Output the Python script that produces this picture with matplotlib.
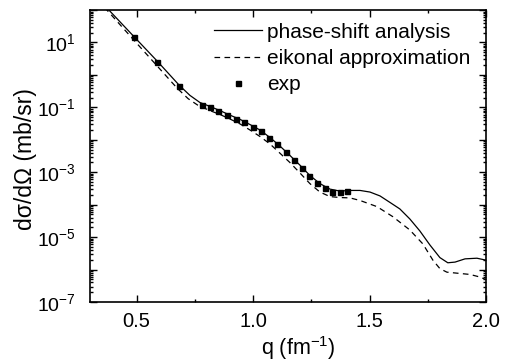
import math
import matplotlib
matplotlib.use("Agg")
import matplotlib.pyplot as plt
from matplotlib.ticker import FixedLocator, FuncFormatter, LogLocator, MultipleLocator, NullFormatter

plt.rcParams['font.family'] = ['Liberation Sans', 'DejaVu Sans']
plt.rcParams['mathtext.fontset'] = 'custom'
plt.rcParams['mathtext.rm'] = 'Liberation Sans'
plt.rcParams['mathtext.it'] = 'Liberation Sans:italic'

# phase-shift analysis (solid)
q_ps = [0.343, 0.489, 0.588, 0.682, 0.729, 0.772, 0.815, 0.858, 0.901, 0.944,
        0.987, 1.030, 1.073, 1.115, 1.158, 1.201, 1.244, 1.287, 1.330, 1.373,
        1.416, 1.459, 1.502, 1.545, 1.588, 1.630, 1.673, 1.716, 1.759, 1.802,
        1.836, 1.867, 1.910, 1.961, 2.000]
xs_ps = [195, 15.1, 2.69, 0.49, 0.234, 0.141, 0.107, 0.0794, 0.0575, 0.0427,
         0.0295, 0.0200, 0.0117, 6.46e-3, 3.31e-3, 1.66e-3, 7.94e-4, 4.47e-4, 3.02e-4, 2.63e-4,
         2.75e-4, 2.75e-4, 2.45e-4, 1.86e-4, 1.17e-4, 7.41e-5, 3.63e-5, 1.55e-5, 5.75e-6, 2.34e-6,
         1.62e-6, 1.70e-6, 2.14e-6, 2.24e-6, 1.95e-6]

# eikonal approximation (dashed)
q_eik = [0.334, 0.480, 0.579, 0.673, 0.721, 0.764, 0.815, 0.858, 0.901, 0.944,
         0.987, 1.030, 1.073, 1.115, 1.158, 1.201, 1.244, 1.287, 1.330, 1.373,
         1.416, 1.459, 1.532, 1.600, 1.673, 1.729, 1.772, 1.802, 1.832, 1.888,
         1.931, 1.974, 2.000]
xs_eik = [204, 13.8, 2.24, 0.398, 0.186, 0.115, 0.0794, 0.0603, 0.0437, 0.0309,
          0.0200, 0.0126, 7.41e-3, 3.89e-3, 2.00e-3, 9.55e-4, 4.47e-4, 2.45e-4, 1.78e-4, 1.66e-4,
          1.62e-4, 1.35e-4, 8.71e-5, 4.27e-5, 1.66e-5, 6.17e-6, 1.95e-6, 1.07e-6, 8.32e-7, 7.59e-7,
          7.08e-7, 5.89e-7, 4.90e-7]

# experimental points
q_exp = [0.489, 0.588, 0.682, 0.781, 0.815, 0.849, 0.888, 0.927, 0.961, 1.000,
         1.034, 1.068, 1.103, 1.141, 1.176, 1.210, 1.240, 1.274, 1.309, 1.339,
         1.373, 1.403]
xs_exp = [14.8, 2.50, 0.455, 0.118, 0.103, 0.0773, 0.0581, 0.0438, 0.0353, 0.0248,
          0.0187, 0.0114, 7.41e-3, 4.21e-3, 2.38e-3, 1.35e-3, 7.66e-4, 4.66e-4, 3.27e-4, 2.46e-4,
          2.46e-4, 2.64e-4]

fig = plt.figure(figsize=(5.13, 3.62), dpi=100)
ax = fig.add_axes([0.1754, 0.1657, 0.772, 0.8066])

ax.plot(q_ps, xs_ps, '-', color='black', lw=0.9, label='phase-shift analysis')
ax.plot(q_eik, xs_eik, '--', color='black', lw=0.9, dashes=(4.5, 3.5), label='eikonal approximation')
ax.plot(q_exp, xs_exp, 's', color='black', ms=3.6, ls='none', label='exp')

ax.set_yscale('log')
ax.set_xlim(0.3, 2.0)
ax.set_ylim(1e-7, 1e2)

ax.xaxis.set_major_locator(MultipleLocator(0.5))
ax.xaxis.set_minor_locator(MultipleLocator(0.25))
ax.xaxis.set_major_formatter(FuncFormatter(lambda v, p: f'{v:.1f}'))

ax.yaxis.set_major_locator(FixedLocator([10.0 ** k for k in range(-7, 3)]))
ax.yaxis.set_minor_locator(LogLocator(base=10, subs=range(2, 10), numticks=20))
ax.yaxis.set_minor_formatter(NullFormatter())


def ylab(v, pos):
    k = int(round(math.log10(v)))
    if k % 2 == 0:
        return ''
    return r'10$^{%d}$' % k


ax.yaxis.set_major_formatter(FuncFormatter(ylab))

ax.tick_params(which='both', direction='in', top=True, right=True, width=1.0)
ax.tick_params(which='major', length=5)
ax.tick_params(which='minor', length=2.5)
ax.tick_params(axis='x', pad=7, labelsize=14.5)
ax.tick_params(axis='y', pad=10, labelsize=14)
for s in ax.spines.values():
    s.set_linewidth(1.2)

ax.set_xlabel(r'q (fm$^{-1}$)', fontsize=15.5)
ax.xaxis.set_label_coords(0.526, -0.11)
ax.set_ylabel('dσ/dΩ (mb/sr)', fontsize=16.5)
ax.yaxis.set_label_coords(-0.135, 0.49)

ax.legend(loc='upper right', frameon=False, fontsize=15, handlelength=2.3,
          handletextpad=0.25, labelspacing=0.35, borderaxespad=0.0,
          bbox_to_anchor=(0.982, 0.985))

fig.savefig('out.png', dpi=100)
